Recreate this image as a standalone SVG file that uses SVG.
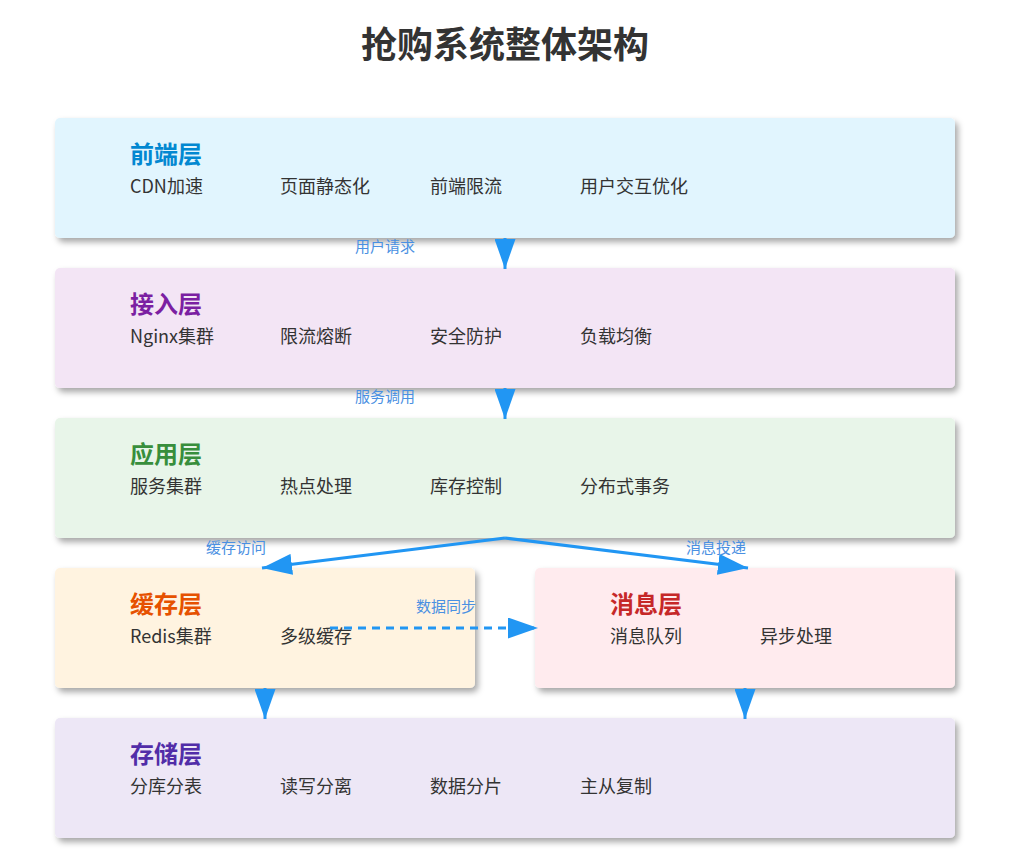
<svg xmlns="http://www.w3.org/2000/svg" width="1011" height="861" viewBox="0 0 1011 861">
<style>
text{font-family:"Noto Sans CJK SC","Noto Sans",sans-serif}
.title{font-size:36px;font-weight:bold;fill:#333;text-anchor:middle}
.lt{font-size:24px;font-weight:bold}
.it{font-size:18px;fill:#333}
.lb{font-size:15px;fill:#4a90e2}
.box{filter:url(#sh)}
.con{stroke:#2196f3;stroke-width:3;fill:none;marker-end:url(#ah)}
</style>
<defs>
<filter id="sh" x="-5%" y="-10%" width="110%" height="130%">
<feDropShadow dx="3" dy="4" stdDeviation="3" flood-color="#000" flood-opacity="0.35"/>
</filter>
<marker id="ah" markerWidth="10" markerHeight="7" refX="10" refY="3.5" orient="auto">
<polygon points="0,0 10,3.5 0,7" fill="#2196f3"/>
</marker>
</defs>
<rect width="1011" height="861" fill="#fff"/>
<text class="title" x="505" y="58">抢购系统整体架构</text>

<g id="frontend">
<rect class="box" x="55" y="118" width="900" height="120" rx="5" fill="#e1f5fe"/>
<text class="lt" x="130" y="163" fill="#0288d1">前端层</text>
<text class="it" x="130" y="193">CDN加速</text>
<text class="it" x="280" y="193">页面静态化</text>
<text class="it" x="430" y="193">前端限流</text>
<text class="it" x="580" y="193">用户交互优化</text>
</g>
<g id="access">
<rect class="box" x="55" y="268" width="900" height="120" rx="5" fill="#f3e5f5"/>
<text class="lt" x="130" y="313" fill="#7b1fa2">接入层</text>
<text class="it" x="130" y="343">Nginx集群</text>
<text class="it" x="280" y="343">限流熔断</text>
<text class="it" x="430" y="343">安全防护</text>
<text class="it" x="580" y="343">负载均衡</text>
</g>
<g id="app">
<rect class="box" x="55" y="418" width="900" height="120" rx="5" fill="#e8f5e9"/>
<text class="lt" x="130" y="463" fill="#388e3c">应用层</text>
<text class="it" x="130" y="493">服务集群</text>
<text class="it" x="280" y="493">热点处理</text>
<text class="it" x="430" y="493">库存控制</text>
<text class="it" x="580" y="493">分布式事务</text>
</g>
<g id="cache">
<rect class="box" x="55" y="568" width="420" height="120" rx="5" fill="#fff3e0"/>
<text class="lt" x="130" y="613" fill="#e65100">缓存层</text>
<text class="it" x="130" y="643">Redis集群</text>
<text class="it" x="280" y="643">多级缓存</text>
</g>
<g id="mq">
<rect class="box" x="535" y="568" width="420" height="120" rx="5" fill="#ffebee"/>
<text class="lt" x="610" y="613" fill="#c62828">消息层</text>
<text class="it" x="610" y="643">消息队列</text>
<text class="it" x="760" y="643">异步处理</text>
</g>
<g id="storage">
<rect class="box" x="55" y="718" width="900" height="120" rx="5" fill="#ede7f6"/>
<text class="lt" x="130" y="763" fill="#512da8">存储层</text>
<text class="it" x="130" y="793">分库分表</text>
<text class="it" x="280" y="793">读写分离</text>
<text class="it" x="430" y="793">数据分片</text>
<text class="it" x="580" y="793">主从复制</text>
</g>

<g id="connectors">
<line class="con" x1="505" y1="238" x2="505" y2="269"/>
<text class="lb" x="355" y="252">用户请求</text>
<line class="con" x1="505" y1="388" x2="505" y2="419"/>
<text class="lb" x="355" y="402">服务调用</text>
<polyline class="con" points="505,538 262,568"/>
<text class="lb" x="206" y="553">缓存访问</text>
<polyline class="con" points="505,538 748,568"/>
<text class="lb" x="686" y="553">消息投递</text>
<line class="con" x1="330" y1="628" x2="538" y2="628" stroke-dasharray="8,6"/>
<text class="lb" x="416" y="612">数据同步</text>
<line class="con" x1="265" y1="688" x2="265" y2="719"/>
<line class="con" x1="745" y1="688" x2="745" y2="719"/>
</g>
</svg>
